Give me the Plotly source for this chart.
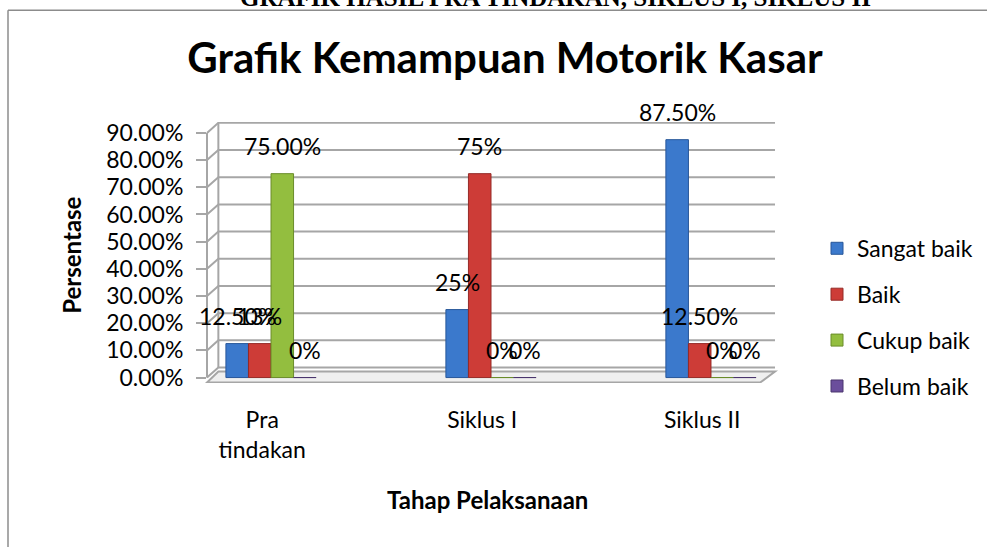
import plotly.graph_objects as go

categories = ["Pra tindakan", "Siklus I", "Siklus II"]
tick_text = ["Pra<br>tindakan", "Siklus I", "Siklus II"]
series_names = ["Sangat baik", "Baik", "Cukup baik", "Belum baik"]
sangat_baik = [12.5, 25.0, 87.5]
baik = [12.5, 75.0, 12.5]
cukup_baik = [75.0, 0.0, 0.0]
belum_baik = [0.0, 0.0, 0.0]
labels_sangat_baik = ["12.50%", "25%", "87.50%"]
labels_baik = ["13%", "75%", "12.50%"]
labels_cukup_baik = ["75.00%", "0%", "0%"]
labels_belum_baik = ["0%", "0%", "0%"]
y_ticks = [0, 10, 20, 30, 40, 50, 60, 70, 80, 90]

values = [sangat_baik, baik, cukup_baik, belum_baik]
labels = [labels_sangat_baik, labels_baik, labels_cukup_baik, labels_belum_baik]
colors = ["#3B79CC", "#CD3C37", "#93BE3F", "#6B4E9C"]
edge = ["#28579A", "#952A27", "#6A8C2A", "#4A356E"]

FONT = "Lato"
BARGAP = 0.59
slot = (1 - BARGAP) / 4
x_idx = list(range(len(categories)))

# plot-area geometry in pixels
L, R, T, B = 207, 775, 122, 383.4
PW, PH = R - L, B - T


def px_x(px):
    return (px - L) / PW


def px_y(py):
    return (B - py) / PH


fig = go.Figure()

for i, (name, vals) in enumerate(zip(series_names, values)):
    fig.add_trace(go.Bar(
        x=x_idx, y=vals, name=name, legendgroup=name,
        marker=dict(color=colors[i], line=dict(color=edge[i], width=1)),
        hoverinfo="skip",
    ))

# data labels
for i, labs in enumerate(labels):
    for c, (v, t) in enumerate(zip(values[i], labs)):
        fig.add_annotation(x=c + (i - 1.5) * slot, y=v, text=t, showarrow=False,
                           yshift=28, xref="x", yref="y",
                           xanchor="center", yanchor="middle",
                           font=dict(family=FONT, size=23, color="#000000"))

# pseudo-3D walls: gridlines with depth stub, floor
DEPTH_X = 0.02
DEPTH_Y = 3.7
shapes = []
for v in y_ticks:
    shapes.append(dict(type="path", xref="paper", yref="y", layer="below",
                       path=f"M 0,{v} L {DEPTH_X},{v + DEPTH_Y} L 1,{v + DEPTH_Y}",
                       line=dict(color="#A6A6A6", width=2)))
shapes.append(dict(type="line", xref="paper", yref="y", layer="below",
                   x0=DEPTH_X, x1=DEPTH_X, y0=DEPTH_Y, y1=y_ticks[-1] + DEPTH_Y,
                   line=dict(color="#A6A6A6", width=2)))
shapes.append(dict(type="line", xref="paper", yref="y", layer="below",
                   x0=0, x1=0, y0=0, y1=y_ticks[-1],
                   line=dict(color="#A6A6A6", width=2)))
shapes.append(dict(type="path", xref="paper", yref="y", layer="below",
                   path=f"M 0,-1.8 L 0.974,-1.8 L 1,{DEPTH_Y - 1.5} L {DEPTH_X},{DEPTH_Y - 1.5} Z",
                   fillcolor="#EFEFEF", line=dict(color="#A6A6A6", width=2)))
# outer frame
shapes.append(dict(type="line", xref="paper", yref="paper", x0=px_x(8), x1=px_x(8),
                   y0=px_y(10), y1=px_y(570), line=dict(color="#8C8C8C", width=1.5)))
shapes.append(dict(type="line", xref="paper", yref="paper", x0=px_x(8), x1=px_x(1000),
                   y0=px_y(10), y1=px_y(10), line=dict(color="#8C8C8C", width=1.5)))

fig.update_layout(
    width=987, height=547,
    margin=dict(l=L, r=987 - R, t=T, b=547 - B, pad=0, autoexpand=False),
    paper_bgcolor="white", plot_bgcolor="rgba(0,0,0,0)",
    barmode="group", bargap=BARGAP, bargroupgap=0,
    shapes=shapes,
    title=dict(text="<b>Grafik Kemampuan Motorik Kasar</b>", x=505 / 987, xanchor="center",
               y=1 - 58 / 547, yanchor="middle",
               font=dict(family=FONT, size=42, color="#000000")),
    legend=dict(x=px_x(817), xanchor="left", y=px_y(227), yanchor="top",
                font=dict(family=FONT, size=23, color="#000000"),
                tracegroupgap=13, itemwidth=30, bgcolor="rgba(0,0,0,0)"),
    showlegend=True,
)

fig.update_xaxes(range=[-0.291, 2.291], tickmode="array",
                 tickvals=[c - 0.04 for c in x_idx], ticktext=tick_text,
                 ticks="outside", ticklen=16, tickcolor="rgba(0,0,0,0)",
                 showgrid=False, zeroline=False, showline=False, automargin=False,
                 tickfont=dict(family=FONT, size=23, color="#000000"))
fig.update_yaxes(range=[-2, 94], tickmode="array", tickvals=y_ticks,
                 ticktext=[f"{v:.2f}%" for v in y_ticks],
                 ticks="outside", ticklen=10, tickwidth=2, tickcolor="#A6A6A6",
                 ticklabelstandoff=8,
                 showgrid=False, zeroline=False, showline=False, automargin=False,
                 tickfont=dict(family=FONT, size=23, color="#000000"))

# axis titles
fig.add_annotation(text="<b>Persentase</b>", xref="paper", yref="paper",
                   x=px_x(72), y=px_y(256), textangle=-90,
                   xanchor="center", yanchor="middle",
                   showarrow=False, font=dict(family=FONT, size=24, color="#000000"))
fig.add_annotation(text="<b>Tahap Pelaksanaan</b>", xref="paper", yref="paper",
                   x=px_x(487), y=px_y(500), xanchor="center", yanchor="middle",
                   showarrow=False, font=dict(family=FONT, size=24, color="#000000"))
# header text cut off at the top
fig.add_annotation(text="<b>GRAFIK HASIL PRA TINDAKAN, SIKLUS I, SIKLUS II</b>",
                   xref="paper", yref="paper", x=px_x(555), xanchor="center",
                   y=px_y(13), yanchor="bottom", showarrow=False,
                   font=dict(family="Liberation Serif", size=25, color="#000000"))

fig.write_html("out.html", config={"displayModeBar": False},
               post_script="document.body.style.margin='0';")
